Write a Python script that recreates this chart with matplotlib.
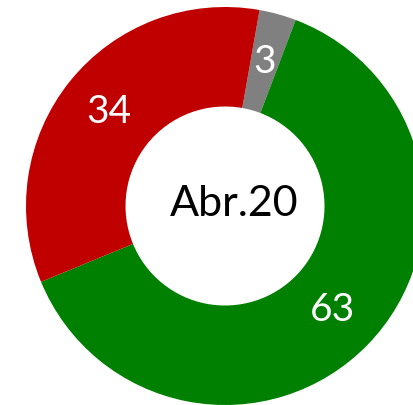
import matplotlib.pyplot as plt

# Donut values (clockwise from just right of the top)
labels = ["3", "63", "34"]
values = [3, 63, 34]
colors = ["#808080", "#008000", "#C00000"]
center_label = "Abr.20"

plt.rcParams['font.family'] = ['Lato', 'DejaVu Sans']

fig = plt.figure(figsize=(4.13, 4.05), dpi=100)
ax = fig.add_axes([0, 0, 1, 1])

# work in pixel units so the ring can be cropped like the reference
cx, cy, r = 225, 199, 199
wedges, texts = ax.pie(values, colors=colors, startangle=80, counterclock=False,
                       radius=r, center=(cx, cy), frame=True,
                       labels=labels, labeldistance=0.75,
                       wedgeprops=dict(width=r * 0.5, linewidth=0),
                       textprops=dict(color='white', fontsize=28, ha='center', va='center'))

ax.text(cx + 9, cy + 2, center_label, ha='center', va='center', fontsize=31, color='black')

ax.set_xlim(0, 413)
ax.set_ylim(0, 405)
ax.set_aspect('equal')
ax.axis('off')

plt.savefig("out.png", dpi=100)
